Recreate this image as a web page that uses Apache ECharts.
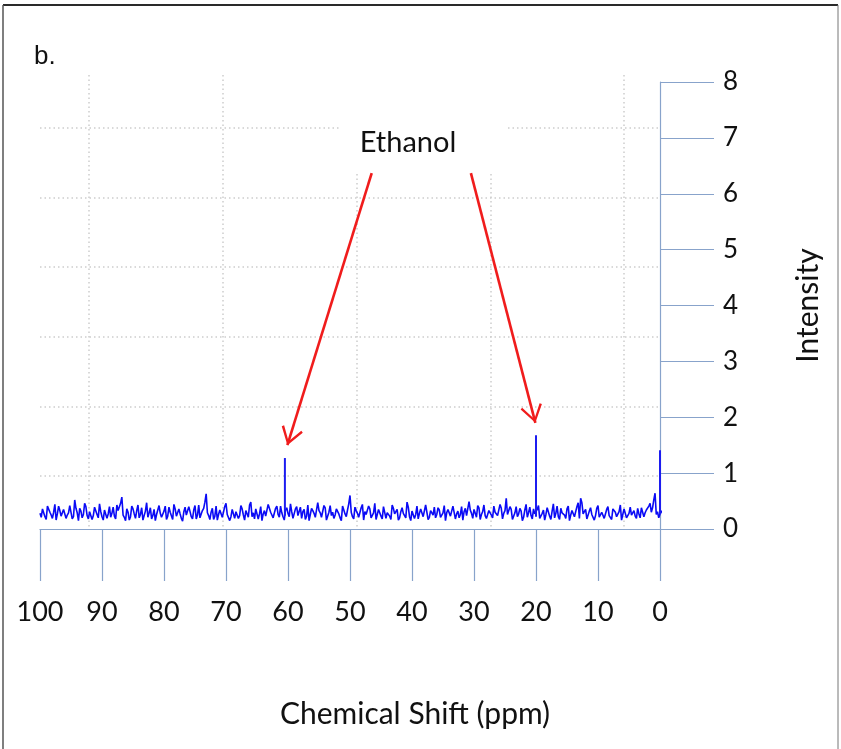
<!DOCTYPE html>
<html>
<head>
<meta charset="utf-8">
<script src="https://cdn.jsdelivr.net/npm/echarts@6/dist/echarts.min.js"></script>
<style>
  html, body { margin: 0; padding: 0; background: #fff; }
  #chart { width: 841px; height: 749px; }
</style>
</head>
<body>
<div id="chart"></div>
<script>
// 13C spectrum baseline, two interleaved sample sets:
// set A at 100.0, 99.6, 99.2 ... ppm; set B at 99.8, 99.4, 99.0 ... ppm
const shiftStart = 100;
const shiftStep = 0.4;
const noiseIntensityA = [
  0.28,0.36,0.22,0.41,0.30,0.19,0.44,0.27,0.33,0.21,0.38,0.25,0.42,0.18,0.52,0.29,0.37,0.20,0.46,0.24,
  0.31,0.17,0.39,0.26,0.45,0.22,0.34,0.19,0.40,0.28,0.23,0.43,0.30,0.57,0.21,0.36,0.16,0.41,0.27,0.33,
  0.20,0.38,0.24,0.47,0.29,0.18,0.35,0.26,0.42,0.21,0.32,0.17,0.39,0.28,0.44,0.23,0.36,0.19,0.31,0.25,
  0.40,0.22,0.34,0.18,0.43,0.27,0.37,0.63,0.24,0.30,0.17,0.41,0.26,0.35,0.20,0.46,0.28,0.22,0.38,0.31,
  0.19,0.42,0.25,0.33,0.21,0.48,0.29,0.36,0.18,0.40,0.27,0.23,0.44,0.30,0.20,0.37,0.26,0.41,0.22,0.34,
  0.28,0.45,0.19,0.36,0.24,0.39,0.31,0.17,0.43,0.26,0.33,0.21,0.47,0.29,0.23,0.38,0.18,0.42,0.30,0.25,
  0.37,0.20,0.41,0.27,0.34,0.60,0.22,0.39,0.28,0.19,0.44,0.31,0.24,0.36,0.21,0.46,0.26,0.33,0.18,0.40,
  0.29,0.23,0.43,0.27,0.35,0.20,0.38,0.25,0.48,0.22,0.32,0.19,0.41,0.28,0.36,0.24,0.45,0.21,0.30,0.39,
  0.26,0.34,0.18,0.42,0.29,0.37,0.22,0.44,0.27,0.20,0.40,0.31,0.24,0.49,0.28,0.35,0.21,0.38,0.26,0.43,
  0.19,0.33,0.25,0.41,0.30,0.22,0.37,0.28,0.55,0.23,0.35,0.18,0.40,0.27,0.32,0.21,0.44,0.29,0.24,0.36,
  0.30,0.42,0.20,0.34,0.26,0.39,0.17,0.45,0.28,0.22,0.37,0.31,0.19,0.41,0.25,0.33,0.23,0.47,0.55,0.27,
  0.35,0.20,0.38,0.29,0.24,0.42,0.18,0.33,0.27,0.40,0.22,0.36,0.30,0.19,0.43,0.26,0.34,0.21,0.39,0.28,
  0.23,0.37,0.20,0.41,0.29,0.34,0.46,0.38,0.64,0.31,0.27,0.33
];
const noiseIntensityB = [
  0.21,0.33,0.17,0.38,0.25,0.30,0.16,0.41,0.23,0.35,0.19,0.29,0.44,0.22,0.37,0.15,0.32,0.26,0.40,0.18,
  0.34,0.24,0.42,0.20,0.31,0.16,0.37,0.27,0.21,0.39,0.18,0.33,0.46,0.25,0.15,0.30,0.22,0.36,0.19,0.43,
  0.26,0.16,0.32,0.21,0.38,0.24,0.15,0.34,0.28,0.19,0.41,0.23,0.30,0.17,0.36,0.20,0.27,0.14,0.39,0.22,
  0.31,0.18,0.42,0.25,0.20,0.33,0.48,0.29,0.17,0.37,0.23,0.16,0.34,0.21,0.40,0.26,0.15,0.35,0.19,0.28,
  0.24,0.36,0.16,0.30,0.43,0.22,0.18,0.39,0.27,0.15,0.33,0.20,0.37,0.25,0.17,0.41,0.21,0.29,0.16,0.38,
  0.22,0.31,0.17,0.40,0.26,0.19,0.35,0.23,0.15,0.37,0.28,0.18,0.33,0.21,0.42,0.16,0.30,0.24,0.19,0.36,
  0.27,0.15,0.34,0.22,0.45,0.30,0.18,0.33,0.21,0.38,0.16,0.26,0.41,0.20,0.29,0.17,0.35,0.23,0.40,0.19,
  0.32,0.17,0.37,0.24,0.16,0.31,0.28,0.20,0.39,0.15,0.34,0.26,0.18,0.36,0.22,0.43,0.17,0.33,0.25,0.20,
  0.38,0.21,0.29,0.15,0.35,0.23,0.41,0.18,0.32,0.26,0.16,0.37,0.22,0.34,0.19,0.28,0.42,0.17,0.31,0.24,
  0.16,0.36,0.20,0.30,0.24,0.44,0.18,0.33,0.26,0.40,0.17,0.29,0.22,0.37,0.15,0.34,0.21,0.39,0.18,0.27,
  0.35,0.19,0.28,0.16,0.38,0.23,0.32,0.20,0.41,0.17,0.29,0.25,0.36,0.15,0.33,0.22,0.40,0.19,0.47,0.24,
  0.18,0.32,0.26,0.16,0.37,0.21,0.30,0.19,0.35,0.24,0.17,0.39,0.22,0.31,0.16,0.36,0.20,0.28,0.25,0.33,
  0.19,0.27,0.38,0.22,0.34,0.41,0.30,0.52,0.26,0.20,0.29
];

// resolved signals (ppm, intensity)
const peakShifts  = [60.5, 20, 0];
const peakHeights = [1.27, 1.68, 1.41];
const peakBases   = [0.24, 0.22, 0.27];

// "Ethanol" callout arrows: tail and head in (ppm, intensity)
const arrowTails = [[46.5, 6.37], [30.5, 6.37]];
const arrowHeads = [[60.1, 1.50], [20.1, 1.90]];

const FONT = 'Lato, "Open Sans", sans-serif';
const AXIS_BLUE = '#88a3cb';
const GRID_DOT = '#cdcdcd';

// interleave the two sample sets into one trace
const noiseData = [];
noiseIntensityA.forEach((v, i) => {
  noiseData.push([+(shiftStart - i * shiftStep).toFixed(2), v]);
  if (i < noiseIntensityB.length) {
    noiseData.push([+(shiftStart - shiftStep / 2 - i * shiftStep).toFixed(2), noiseIntensityB[i]]);
  }
});

const peakSeries = peakShifts.map((s, k) => ({
  type: 'line',
  xAxisIndex: 0, yAxisIndex: 0,
  data: [[s, peakBases[k]], [s, peakHeights[k]]],
  symbol: 'none',
  clip: false,
  silent: true,
  lineStyle: { color: '#1c1cf0', width: 2 },
  z: 3
}));

// open V arrow head, tip at the symbol centre
const chevron = 'path://M11,0 L22,16.5 L20,18 L11,4 L2,18 L0,16.5 Z M11,-18 L11.02,-18 L11,-17.98 Z';

const option = {
  backgroundColor: '#ffffff',
  animation: false,
  grid: [
    { left: 40, right: 181, top: 82, bottom: 220 },   // spectrum
    { left: 89, right: 217, top: 75, bottom: 219 },   // dotted verticals
    { left: 40, right: 181, top: 128, bottom: 273 }   // dotted horizontals
  ],
  xAxis: [
    {
      gridIndex: 0, type: 'value', inverse: true, min: 0, max: 100, interval: 10,
      axisLine: { show: true, onZero: false, lineStyle: { color: AXIS_BLUE, width: 1.2 } },
      axisTick: { show: true, length: 52, lineStyle: { color: AXIS_BLUE, width: 1.2 } },
      axisLabel: { margin: 70, fontFamily: FONT, fontSize: 27, color: '#111' },
      splitLine: { show: false },
      name: 'Chemical Shift (ppm)', nameLocation: 'middle', nameGap: 170,
      nameTextStyle: { fontFamily: FONT, fontSize: 30, color: '#111', padding: [0, 0, 0, 130] }
    },
    {
      gridIndex: 1, type: 'value', min: 0, max: 4, interval: 1,
      axisLine: { show: false }, axisTick: { show: false }, axisLabel: { show: false },
      splitLine: { show: true, lineStyle: { color: GRID_DOT, width: 1.5, type: [1.5, 3] } }
    },
    {
      gridIndex: 2, type: 'value', min: 0, max: 1,
      axisLine: { show: false }, axisTick: { show: false }, axisLabel: { show: false },
      splitLine: { show: false }
    }
  ],
  yAxis: [
    {
      gridIndex: 0, type: 'value', position: 'right', min: 0, max: 8, interval: 1,
      axisLine: { show: true, onZero: false, lineStyle: { color: AXIS_BLUE, width: 1.2 } },
      axisTick: { show: true, length: 54, lineStyle: { color: AXIS_BLUE, width: 1.2 } },
      axisLabel: { margin: 63, fontFamily: FONT, fontSize: 26, color: '#111' },
      splitLine: { show: false },
      name: 'Intensity', nameLocation: 'middle', nameRotate: 90, nameGap: 133,
      nameTextStyle: { fontFamily: FONT, fontSize: 30, color: '#111' }
    },
    {
      gridIndex: 1, type: 'value', min: 0, max: 1,
      axisLine: { show: false }, axisTick: { show: false }, axisLabel: { show: false },
      splitLine: { show: false }
    },
    {
      gridIndex: 2, type: 'value', min: 0, max: 5, interval: 1,
      axisLine: { show: false }, axisTick: { show: false }, axisLabel: { show: false },
      splitLine: { show: true, lineStyle: { color: GRID_DOT, width: 1.5, type: [1.5, 3] } }
    }
  ],
  graphic: [
    // white panel behind the callout title
    { type: 'rect', z: 1, shape: { x: 340, y: 70, width: 167, height: 101 }, style: { fill: '#ffffff' }, silent: true },
    { type: 'text', z: 10, x: 408, y: 143, style: { text: 'Ethanol', font: '29px ' + FONT, fill: '#111', align: 'center', verticalAlign: 'middle' } },
    { type: 'text', z: 10, x: 34, y: 57, style: { text: 'b.', font: '26px "Liberation Sans", Arial, sans-serif', fill: '#111', align: 'left', verticalAlign: 'middle' } },
    // frame
    { type: 'line', z: 10, shape: { x1: 3, y1: 5, x2: 838, y2: 5 }, style: { stroke: '#2a2a2a', lineWidth: 2 } },
    { type: 'line', z: 10, shape: { x1: 3, y1: 5, x2: 3, y2: 749 }, style: { stroke: '#555', lineWidth: 1.5 } },
    { type: 'line', z: 10, shape: { x1: 838, y1: 5, x2: 838, y2: 749 }, style: { stroke: '#777', lineWidth: 1 } }
  ],
  series: [
    {
      type: 'line',
      xAxisIndex: 0, yAxisIndex: 0,
      data: noiseData,
      symbol: 'none',
      clip: false,
      silent: true,
      lineStyle: { color: '#0a0af5', width: 1.6 },
      z: 2,
      markLine: {
        silent: true,
        symbol: ['none', chevron],
        symbolSize: [22, 36],
        label: { show: false },
        lineStyle: { color: '#f01c1c', width: 2.6, type: 'solid' },
        emphasis: { disabled: true },
        data: arrowTails.map((t, k) => [{ coord: t }, { coord: arrowHeads[k] }])
      }
    },
    ...peakSeries
  ]
};

const chart = echarts.init(document.getElementById('chart'), null, { renderer: 'canvas' });
chart.setOption(option);
</script>
</body>
</html>
